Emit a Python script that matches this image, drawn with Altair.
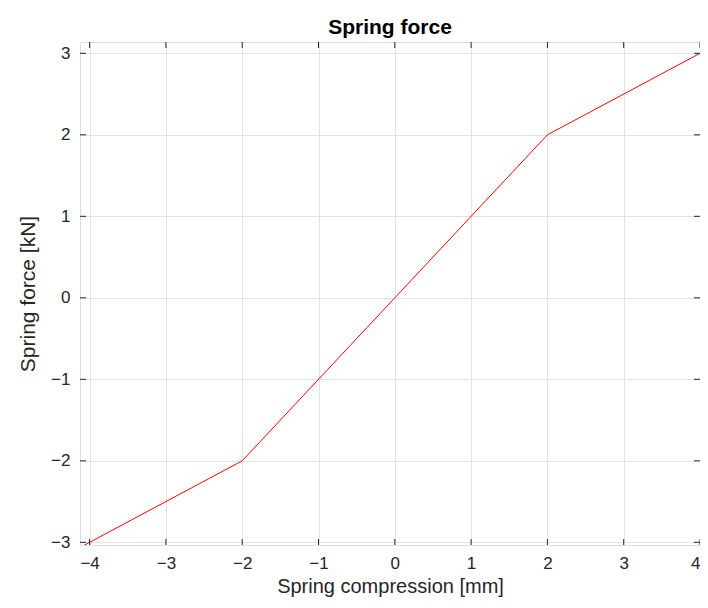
import altair as alt
import pandas as pd

# Data
compression = [-4.126, -2.0, 2.0, 4.1]
force = [-3.063, -2.0, 2.0, 3.05]
x_ticks = [-4, -3, -2, -1, 0, 1, 2, 3, 4]
y_ticks = [-3, -2, -1, 0, 1, 2, 3]
x_domain = [-4.126, 4.0]
y_domain = [-3.033, 3.139]

W, H = 620, 503
FONT = "Liberation Sans"
TXT = "#262626"
GRID = "#e3e3e3"

line_df = pd.DataFrame({"x": compression, "y": force})
xt_df = pd.DataFrame({"x": x_ticks})
yt_df = pd.DataFrame({"y": y_ticks})

xs = alt.Scale(domain=x_domain, nice=False, zero=False)
ys = alt.Scale(domain=y_domain, nice=False, zero=False)

x_axis = alt.Axis(values=x_ticks, grid=True, gridColor=GRID, ticks=False, domain=False,
                  labelFont=FONT, labelFontSize=17, labelColor=TXT, labelPadding=10,
                  labelFlush=1,
                  title="Spring compression [mm]", titleFont=FONT, titleFontSize=20,
                  titleFontWeight="normal", titleColor=TXT,
                  titleBaseline="alphabetic", titleY=47, format="d")
y_axis = alt.Axis(values=y_ticks, grid=True, gridColor=GRID, ticks=False, domain=False,
                  labelFont=FONT, labelFontSize=17, labelColor=TXT, labelPadding=10,
                  title="Spring force [kN]", titleFont=FONT, titleFontSize=21,
                  titleFontWeight="normal", titleColor=TXT,
                  titleBaseline="middle", titleX=-52, titleY=H / 2, format="d")

line = alt.Chart(line_df).mark_line(color="#ff0000", strokeWidth=1, clip=True).encode(
    x=alt.X("x:Q", scale=xs, axis=x_axis),
    y=alt.Y("y:Q", scale=ys, axis=y_axis),
)

tick_len = 6
tb = alt.Chart(xt_df).mark_rule(color=TXT, strokeWidth=1).encode(
    x=alt.X("x:Q", scale=xs), y=alt.value(H), y2=alt.value(H - tick_len))
tt = alt.Chart(xt_df).mark_rule(color=TXT, strokeWidth=1).encode(
    x=alt.X("x:Q", scale=xs), y=alt.value(0), y2=alt.value(tick_len))
tl = alt.Chart(yt_df).mark_rule(color=TXT, strokeWidth=1).encode(
    y=alt.Y("y:Q", scale=ys), x=alt.value(0), x2=alt.value(tick_len))
tr = alt.Chart(yt_df).mark_rule(color=TXT, strokeWidth=1).encode(
    y=alt.Y("y:Q", scale=ys), x=alt.value(W), x2=alt.value(W - tick_len))

chart = alt.layer(line, tb, tt, tl, tr).properties(
    width=W, height=H,
    title=alt.Title("Spring force", font=FONT, fontSize=21, fontWeight="bold",
                    color="#000000", offset=4),
    autosize=alt.AutoSizeParams(type="none"),
    padding={"left": 72, "top": 34, "right": 0, "bottom": 52},
).configure_view(stroke=TXT, strokeWidth=1).configure(background="white")

chart.save("out.html", embed_options={"renderer": "svg", "actions": False})
